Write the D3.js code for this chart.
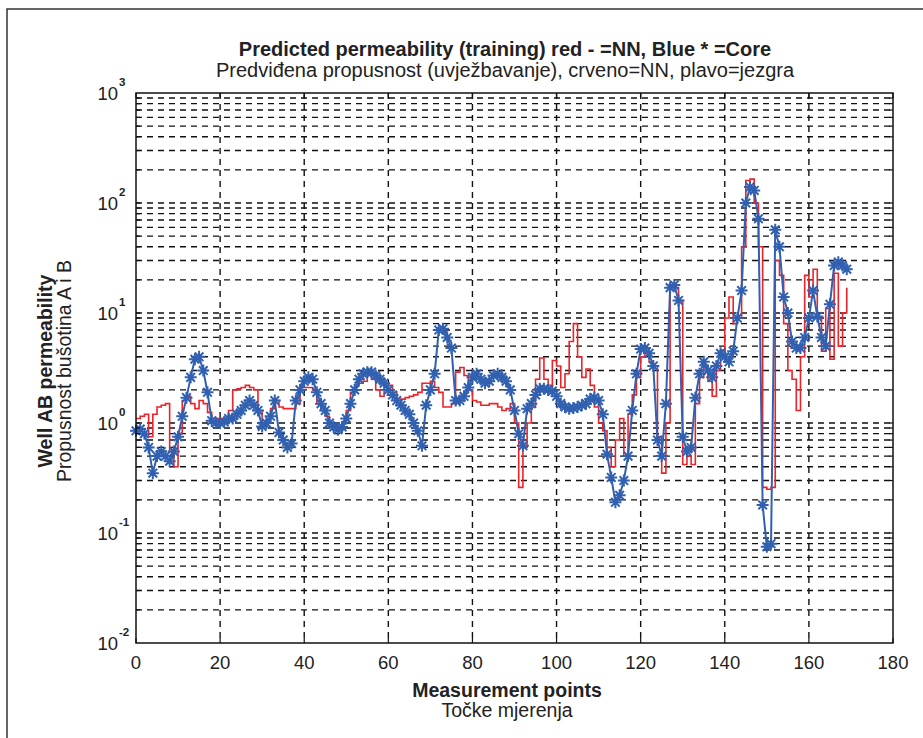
<!DOCTYPE html>
<html>
<head>
<meta charset="UTF-8">
<title>Predicted permeability</title>
<script src="https://cdn.jsdelivr.net/npm/d3@7"></script>
<style>
  body { margin: 0; background: #fff; }
  text { font-family: "Liberation Sans", Arial, sans-serif; fill: #222; }
</style>
</head>
<body>
<div id="chart"></div>
<script>
// measurement points 0..169
const points = d3.range(0, 170);

// blue * = Core
const core = [
  0.85, 0.88, 0.8, 0.6, 0.35, 0.5, 0.55, 0.5, 0.45, 0.55,
  0.75, 1.15, 1.7, 2.6, 3.8, 4.0, 3.0, 1.9, 1.05, 1.0,
  1.0, 1.02, 1.1, 1.1, 1.2, 1.3, 1.45, 1.6, 1.45, 1.3,
  0.93, 1.0, 1.15, 1.6, 0.82, 0.7, 0.6, 0.65, 1.6, 2.0,
  2.4, 2.6, 2.5, 1.9, 1.5, 1.3, 1.0, 0.92, 0.87, 0.92,
  1.1, 1.5, 2.0, 2.5, 2.8, 2.9, 2.9, 2.7, 2.5, 2.3,
  2.0, 1.8, 1.6, 1.45, 1.3, 1.2, 1.0, 0.85, 0.62, 1.45,
  2.0, 2.8, 7.0, 7.2, 6.0, 4.8, 1.6, 1.6, 1.75, 2.1,
  2.6, 2.8, 2.5, 2.3, 2.4, 2.7, 2.8, 2.6, 2.4, 2.0,
  1.3, 0.8, 0.62, 1.35, 1.5, 1.8, 2.05, 2.05, 2.0, 1.95,
  1.75, 1.5, 1.4, 1.35, 1.37, 1.4, 1.45, 1.5, 1.65, 1.7,
  1.6, 1.2, 0.52, 0.32, 0.19, 0.22, 0.3, 0.5, 1.3, 2.8,
  4.7, 4.8, 4.3, 3.3, 0.7, 0.5, 1.5, 17, 18, 13,
  0.75, 0.55, 0.6, 1.7, 2.8, 3.6, 3.0, 2.6, 3.3, 4.3,
  4.0, 3.6, 4.5, 9, 16, 100, 140, 130, 72, 0.18,
  0.075, 0.08, 57, 40, 14, 10, 5.5, 4.8, 4.8, 6,
  9, 16, 9.3, 6, 5, 12, 27, 29, 27, 25
];

// red - = NN
const nn = [
  1.1, 1.15, 1.2, 0.75, 1.2, 1.4, 1.45, 1.5, 0.55, 0.4,
  0.8, 1.6, 1.75, 1.5, 1.35, 1.6, 1.5, 1.25, 1.1, 1.1,
  1.1, 1.1, 1.3, 2.0, 2.05, 2.1, 2.2, 2.1, 2.0, 1.3,
  0.95, 1.05, 1.35, 1.6, 1.4, 1.35, 1.35, 1.35, 1.5, 2.1,
  2.1, 2.1, 2.0, 1.5, 1.3, 1.15, 1.0, 0.95, 0.93, 1.0,
  1.3, 1.9, 2.2, 2.3, 2.4, 2.7, 2.5, 2.0, 1.75, 2.0,
  2.2, 1.9, 1.6, 1.65, 1.7, 1.75, 1.8, 1.9, 2.3, 2.3,
  2.4, 2.1, 1.9, 1.4, 1.4, 1.5, 2.9, 3.2, 2.7, 2.0,
  1.6, 1.55, 1.45, 1.45, 1.5, 1.5, 1.4, 1.3, 1.35, 1.5,
  1.0, 0.26, 0.6, 1.0, 1.4, 2.5, 3.9, 2.5, 2.2, 3.7,
  3.3, 2.1, 2.8, 5.5, 8.0, 4.0, 2.6, 3.1, 2.2, 1.4,
  1.0, 0.85, 0.6, 0.4, 0.7, 1.1, 0.5, 1.2, 1.8, 2.6,
  4.0, 4.3, 3.6, 3.3, 0.75, 0.35, 1.0, 18, 17, 13,
  0.42, 0.5, 0.42, 1.5, 2.6, 3.2, 2.4, 1.75, 3.0, 4.6,
  9, 14, 8, 9, 40, 160, 165, 100, 40, 0.26,
  0.25, 0.26, 30, 22, 8, 3, 2.5, 1.3, 4, 22,
  14, 25, 9, 4.5, 11, 3.8, 23, 5, 10, 17
];

const xTicks = [0, 20, 40, 60, 80, 100, 120, 140, 160, 180];
const yExponents = [-2, -1, 0, 1, 2, 3];

const width = 923, height = 738;
const mLeft = 136, mRight = 893, mTop = 93, mBottom = 643;

const svg = d3.select("#chart").append("svg")
    .attr("width", width)
    .attr("height", height);

// frame
svg.append("path")
    .attr("d", `M7,${height}V9H${width}`)
    .attr("fill", "none")
    .attr("stroke", "#333")
    .attr("stroke-width", 1.5);

const x = d3.scaleLinear().domain([0, 180]).range([mLeft, mRight]);
const y = d3.scaleLog().domain([1e-2, 1e3]).range([mBottom, mTop]);

// grid: every minor log value
const gridVals = [];
yExponents.forEach(e => {
  if (e === 3) return;
  for (let k = 1; k <= 9; k++) {
    const v = k * Math.pow(10, e);
    if (v > 1e-2 && v < 1e3) gridVals.push(v);
  }
});

const grid = svg.append("g");
grid.selectAll("line.h")
    .data(gridVals)
    .join("line")
    .attr("class", "h")
    .attr("x1", mLeft).attr("x2", mRight)
    .attr("y1", d => y(d)).attr("y2", d => y(d))
    .attr("stroke", "#111")
    .attr("stroke-width", 1.4)
    .attr("stroke-dasharray", "6,5");

grid.selectAll("line.v")
    .data(xTicks.slice(1, -1))
    .join("line")
    .attr("class", "v")
    .attr("x1", d => x(d)).attr("x2", d => x(d))
    .attr("y1", mTop).attr("y2", mBottom)
    .attr("stroke", "#111")
    .attr("stroke-width", 1.4)
    .attr("stroke-dasharray", "6,5");

// series
const redLine = d3.line()
    .x((d, i) => x(points[i]))
    .y(d => y(d))
    .curve(d3.curveStepAfter);

const blueLine = d3.line()
    .x((d, i) => x(points[i]))
    .y(d => y(d));

svg.append("path")
    .datum(nn)
    .attr("d", redLine)
    .attr("fill", "none")
    .attr("stroke", "#ee2228")
    .attr("stroke-width", 1.6);

svg.append("path")
    .datum(core)
    .attr("d", blueLine)
    .attr("fill", "none")
    .attr("stroke", "#3160b0")
    .attr("stroke-width", 2);

// asterisk markers
const r = 6;
const star = `M${-r},0H${r}M0,${-r}V${r}M${-r*0.72},${-r*0.72}L${r*0.72},${r*0.72}M${-r*0.72},${r*0.72}L${r*0.72},${-r*0.72}`;
svg.append("g").selectAll("path")
    .data(core)
    .join("path")
    .attr("transform", (d, i) => `translate(${x(points[i])},${y(d)})`)
    .attr("d", star)
    .attr("stroke", "#3160b0")
    .attr("stroke-width", 2)
    .attr("fill", "none");

// axis box
svg.append("rect")
    .attr("x", mLeft).attr("y", mTop)
    .attr("width", mRight - mLeft).attr("height", mBottom - mTop)
    .attr("fill", "none")
    .attr("stroke", "#111")
    .attr("stroke-width", 1.5);

// minor ticks (left and right, inward)
const ticks = svg.append("g").attr("stroke", "#111").attr("stroke-width", 1.2);
gridVals.forEach(v => {
  ticks.append("line").attr("x1", mLeft).attr("x2", mLeft + 4).attr("y1", y(v)).attr("y2", y(v));
  ticks.append("line").attr("x1", mRight - 4).attr("x2", mRight).attr("y1", y(v)).attr("y2", y(v));
});
xTicks.forEach(t => {
  ticks.append("line").attr("x1", x(t)).attr("x2", x(t)).attr("y1", mBottom).attr("y2", mBottom - 5);
  ticks.append("line").attr("x1", x(t)).attr("x2", x(t)).attr("y1", mTop).attr("y2", mTop + 5);
});

// x tick labels
svg.append("g").selectAll("text")
    .data(xTicks)
    .join("text")
    .attr("x", d => x(d))
    .attr("y", mBottom + 26)
    .attr("text-anchor", "middle")
    .attr("font-size", 18.5)
    .attr("fill", "#333")
    .text(d => d);

// y tick labels 10^e
const yl = svg.append("g").selectAll("g")
    .data(yExponents)
    .join("g")
    .attr("transform", e => `translate(${mLeft - 18},${y(Math.pow(10, e)) + 7})`);
yl.append("text")
    .attr("text-anchor", "end")
    .attr("font-size", 18.5)
    .attr("fill", "#333")
    .text("10");
yl.append("text")
    .attr("x", 1)
    .attr("y", -14)
    .attr("font-size", 11.5)
    .attr("font-weight", "bold")
    .attr("fill", "#333")
    .text(e => e);

// titles
const cx = 505;
svg.append("text")
    .attr("x", cx).attr("y", 56)
    .attr("text-anchor", "middle")
    .attr("font-size", 20)
    .attr("font-weight", "bold")
    .text("Predicted permeability (training) red - =NN, Blue * =Core");
svg.append("text")
    .attr("x", cx).attr("y", 77)
    .attr("text-anchor", "middle")
    .attr("font-size", 20)
    .text("Predviđena propusnost (uvježbavanje), crveno=NN, plavo=jezgra");

svg.append("text")
    .attr("x", 507).attr("y", 697)
    .attr("text-anchor", "middle")
    .attr("font-size", 19.5)
    .attr("font-weight", "bold")
    .text("Measurement points");
svg.append("text")
    .attr("x", 507).attr("y", 717)
    .attr("text-anchor", "middle")
    .attr("font-size", 19.5)
    .text("Točke mjerenja");

const ylab = svg.append("g").attr("transform", `translate(52,${(mTop + mBottom) / 2 + 3}) rotate(-90)`);
ylab.append("text")
    .attr("text-anchor", "middle")
    .attr("font-size", 19.5)
    .attr("font-weight", "bold")
    .text("Well AB permeability");
ylab.append("text")
    .attr("y", 19)
    .attr("text-anchor", "middle")
    .attr("font-size", 19.5)
    .text("Propusnost bušotina A i B");
</script>
</body>
</html>
